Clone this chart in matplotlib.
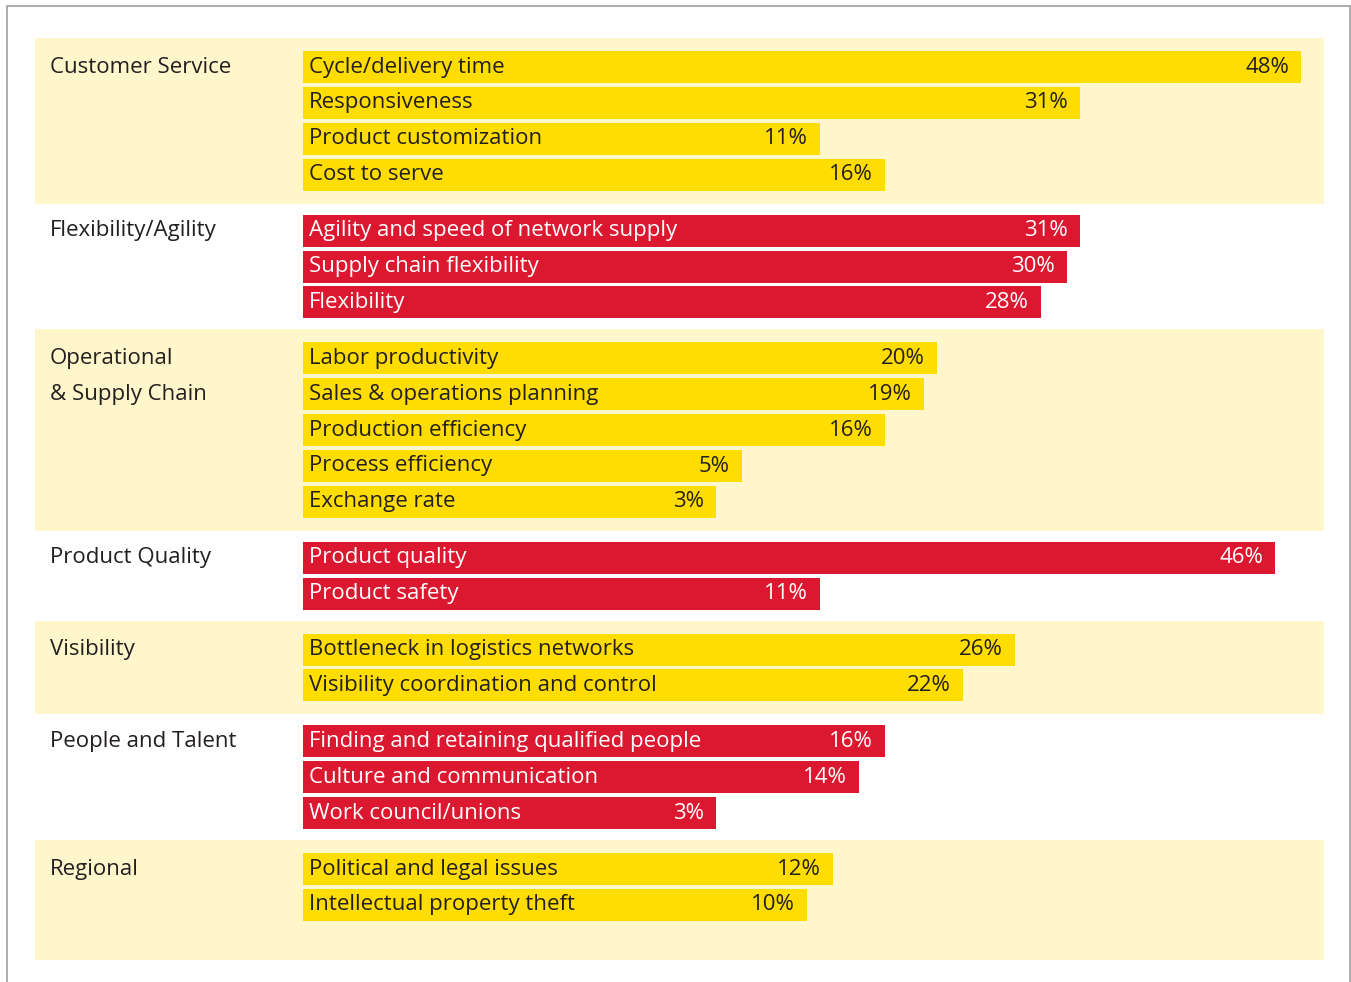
import matplotlib
matplotlib.use("Agg")
import matplotlib.pyplot as plt
from matplotlib.patches import Rectangle

plt.rcParams['font.family'] = ['Open Sans', 'DejaVu Sans']

categories = ["Customer Service", "Flexibility/Agility", "Operational\n& Supply Chain",
              "Product Quality", "Visibility", "People and Talent", "Regional"]
items = [
    ["Cycle/delivery time", "Responsiveness", "Product customization", "Cost to serve"],
    ["Agility and speed of network supply", "Supply chain flexibility", "Flexibility"],
    ["Labor productivity", "Sales & operations planning", "Production efficiency",
     "Process efficiency", "Exchange rate"],
    ["Product quality", "Product safety"],
    ["Bottleneck in logistics networks", "Visibility coordination and control"],
    ["Finding and retaining qualified people", "Culture and communication",
     "Work council/unions"],
    ["Political and legal issues", "Intellectual property theft"],
]
values = [
    [48, 31, 11, 16],
    [31, 30, 28],
    [20, 19, 16, 5, 3],
    [46, 11],
    [26, 22],
    [16, 14, 3],
    [12, 10],
]

YELLOW = "#FFDD00"
RED = "#DC1830"
BAND = "#FFF6CC"
DARK = "#231F20"

W, H = 1351, 982
fig = plt.figure(figsize=(W / 100, H / 100), dpi=100)
ax = fig.add_axes([0, 0, 1, 1])
ax.set_xlim(-677 / 13, (W - 677) / 13)
ax.set_ylim(H, 0)
ax.axis("off")

base = -28.8      # bars start here (labels sit inside)
pitch = 35.9
bar_h = 32
gap = 20
y = 67.0
fs = 16

for g, (cat, labs, vals) in enumerate(zip(categories, items, values)):
    ys = [y + i * pitch for i in range(len(vals))]
    top = ys[0] - 29
    bottom = ys[-1] + 29 + (26 if g == len(categories) - 1 else 0)
    if g % 2 == 0:
        ax.axhspan(top, bottom, xmin=35 / W, xmax=1324 / W, color=BAND, lw=0, zorder=0)
        col, tcol = YELLOW, DARK
    else:
        col, tcol = RED, "white"
    ax.barh(ys, [v - base for v in vals], left=base, height=bar_h, color=col, zorder=2)
    for yy, lab, v in zip(ys, labs, vals):
        ax.annotate(lab, (base, yy), xytext=(4.4, 0), textcoords="offset points",
                    ha="left", va="center", fontsize=fs, color=tcol, zorder=3)
        ax.annotate(f"{v}%", (v, yy), xytext=(-8.6, 0), textcoords="offset points",
                    ha="right", va="center", fontsize=fs, color=tcol, zorder=3)
    for i, line in enumerate(cat.split("\n")):
        ax.annotate(line, (-677 / 13, ys[i]), xytext=(36, 0), textcoords="offset points",
                    ha="left", va="center", fontsize=fs, color=DARK)
    y = ys[-1] + pitch + gap

# thin frame around the panel
fig.add_artist(Rectangle((7 / W, -0.05), (1350 - 7) / W, 1.05 - 6 / H, transform=fig.transFigure,
                         fill=False, edgecolor="#A0A0A0", lw=1.2))

fig.savefig("out.png", dpi=100)
